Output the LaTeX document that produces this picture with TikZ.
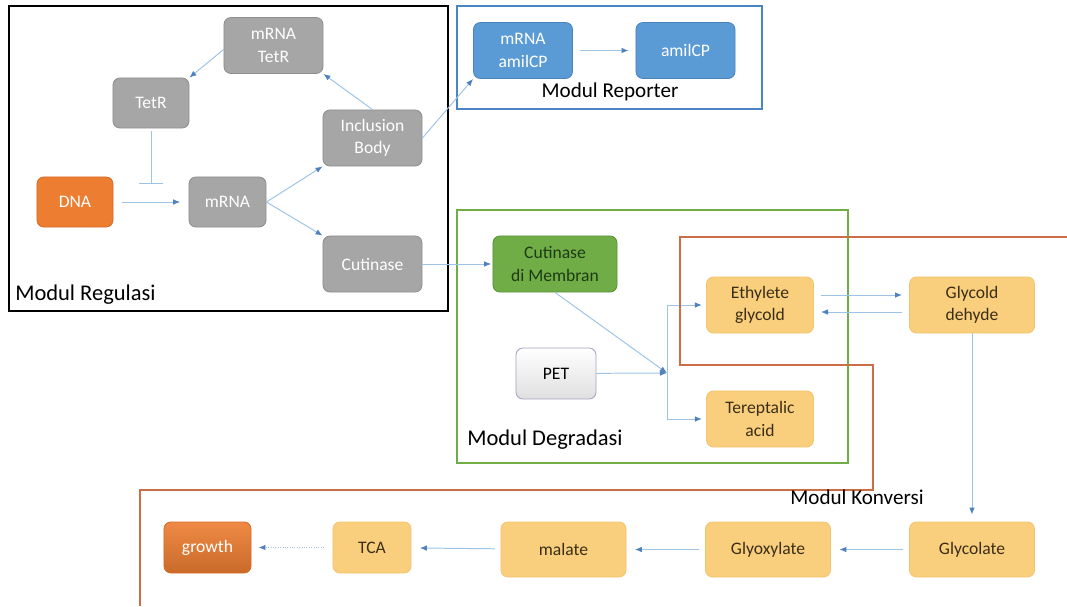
\documentclass[tikz,border=0pt]{standalone}
\usepackage{fontspec}
\setmainfont{Carlito}
\usetikzlibrary{arrows.meta}

\definecolor{boxgray}{HTML}{A6A6A6}
\definecolor{graydraw}{HTML}{8E8E8E}
\definecolor{dnaorange}{HTML}{ED7D31}
\definecolor{dnadraw}{HTML}{D56A22}
\definecolor{boxblue}{HTML}{5B9BD5}
\definecolor{bluedraw}{HTML}{4A84BC}
\definecolor{boxgreen}{HTML}{70AD47}
\definecolor{greendraw}{HTML}{5A9238}
\definecolor{greentext}{HTML}{1E3A12}
\definecolor{boxyellow}{HTML}{F9CF7E}
\definecolor{yellowdraw}{HTML}{F3C46C}
\definecolor{yellowtext}{HTML}{3B2E16}
\definecolor{arrline}{HTML}{9DC3E6}
\definecolor{arrhead}{HTML}{4F81BD}
\definecolor{frameblue}{HTML}{4A86C5}
\definecolor{framegreen}{HTML}{70AD47}
\definecolor{frameorange}{HTML}{CC6E45}

\begin{document}
\begin{tikzpicture}[x=0.025cm, y=-0.025cm,
    box/.style={rounded corners=5pt, minimum width=2.475cm, minimum height=1.4cm,
        align=center, inner sep=2pt, line width=0.6pt,
        font=\fontsize{12.5}{16}\selectfont},
    graybox/.style={box, fill=boxgray, draw=graydraw, text=white},
    bluebox/.style={box, fill=boxblue, draw=bluedraw, text=white},
    yellowbox/.style={box, fill=boxyellow, draw=yellowdraw, text=yellowtext},
    smallbox/.style={minimum width=1.9cm, minimum height=1.25cm},
    widebox/.style={minimum width=3.125cm},
    arr/.style={draw=arrline, line width=0.7pt,
        -{Latex[length=5pt, width=4pt, color=arrhead]}},
    modlabel/.style={font=\fontsize{15}{18}\selectfont, text=black, inner sep=0pt}
]
    \useasboundingbox (0,0) rectangle (1067,606);

    % Modul Regulasi
    \draw[line width=1.4pt] (9,6) rectangle (448,311);
    \node[modlabel, anchor=west, font=\fontsize{16}{18}\selectfont] (lreg) at (15,295) {Modul Regulasi};
    \node[graybox] (mtetr) at (273.5,45.5) {mRNA\\TetR};
    \node[graybox, smallbox] (tetr) at (151,103) {TetR};
    \node[graybox] (ib) at (372.5,138) {Inclusion\\Body};
    \node[box, smallbox, fill=dnaorange, draw=dnadraw, text=white] (dna) at (75,202) {DNA};
    \node[graybox, smallbox, minimum width=1.925cm] (mrna) at (227.5,202) {mRNA};
    \node[graybox] (cut) at (372.5,264) {Cutinase};
    \coordinate (inh) at (151,184);

    \draw[arr, shorten <=6pt, shorten >=6pt] (dna) -- (mrna);
    \draw[draw=arrline, line width=0.7pt, -{Bar[width=17pt, color=arrline]},
        shorten <=2pt] (tetr) -- (inh);
    \draw[arr] (mrna.east) -- (ib.south west);
    \draw[arr] (mrna.east) -- (cut.north west);
    \draw[arr] (ib.north) -- (mtetr.south east);
    \draw[arr] ([yshift=-0.1cm]mtetr.west) -- (tetr.north east);

    % Modul Reporter
    \draw[frameblue, line width=1pt] (457,6) rectangle (762,109);
    \node[modlabel] (lrep) at (610,92) {Modul Reporter};
    \node[bluebox] (mamil) at (523,50.5) {mRNA\\amilCP};
    \node[bluebox] (amil) at (685.5,50.5) {amilCP};

    \draw[arr] (ib.east) -- (mamil.south west);
    \draw[arr, shorten <=5pt, shorten >=5pt] (mamil) -- (amil);

    % Modul Degradasi
    \draw[framegreen, line width=1pt] (457,210) rectangle (848,463);
    \node[modlabel, anchor=west, font=\fontsize{16}{18}\selectfont] (ldeg) at (467,440) {Modul Degradasi};
    \node[box, minimum width=3.1cm, fill=boxgreen, draw=greendraw, text=greentext]
        (cdm) at (555,264) {Cutinase\\di Membran};
    \node[box, minimum width=2cm, minimum height=1.275cm, top color=white,
        bottom color=gray!25, draw=gray!80!blue!60, text=black] (pet) at (556,373.5) {PET};
    \node[yellowbox, minimum width=2.675cm] (eg) at (760,305) {Ethylete\\glycold};
    \node[yellowbox, minimum width=2.675cm] (ta) at (760,419) {Tereptalic\\acid};
    \coordinate (m) at (667,373);

    \draw[arr, shorten >=1pt] (cut) -- (cdm);
    \draw[arr] (cdm.south) -- (m);
    \draw[arr] (pet) -- (m);
    \draw[arr, shorten >=3pt] (m) |- (eg);
    \draw[arr, shorten >=3pt] (m) |- (ta);

    % Modul Konversi
    \draw[frameorange, line width=1.3pt] (1067,237) -- (680,237) -- (680,365)
        -- (873,365) -- (873,490) -- (140,490) -- (140,606);
    \node[modlabel] (lkon) at (857,497) {Modul Konversi};
    \node[yellowbox, widebox] (gd) at (972,305) {Glycold\\dehyde};
    \node[yellowbox, widebox, minimum height=1.375cm] (gc) at (972,549.5) {Glycolate};
    \node[yellowbox, widebox, minimum height=1.375cm] (gx) at (768,549.5) {Glyoxylate};
    \node[yellowbox, widebox, minimum height=1.375cm] (mal) at (563.5,549.5) {malate};
    \node[yellowbox, minimum width=1.95cm, minimum height=1.275cm] (tca) at (372,547.5) {TCA};
    \node[box, minimum width=2.175cm, minimum height=1.275cm, top color=dnaorange!90,
        bottom color=dnaorange!85!black, draw=dnadraw, text=white] (growth) at (207.5,547.5) {growth};

    \draw[arr, shorten <=5pt, shorten >=5pt] ([yshift=0.25cm]eg.east) -- ([yshift=0.25cm]gd.west);
    \draw[arr, shorten <=5pt, shorten >=5pt] ([yshift=-0.175cm]gd.west) -- ([yshift=-0.175cm]eg.east);
    \draw[arr, shorten >=5pt] (gd) -- (gc);
    \draw[arr, shorten <=4pt, shorten >=6pt] (gc) -- (gx);
    \draw[arr, shorten <=4pt, shorten >=6pt] (gx) -- (mal);
    \draw[arr, shorten <=4pt, shorten >=6pt] (mal) -- (tca);
    \draw[arr, densely dotted, shorten <=6pt, shorten >=5pt] (tca) -- (growth);
\end{tikzpicture}
\end{document}
